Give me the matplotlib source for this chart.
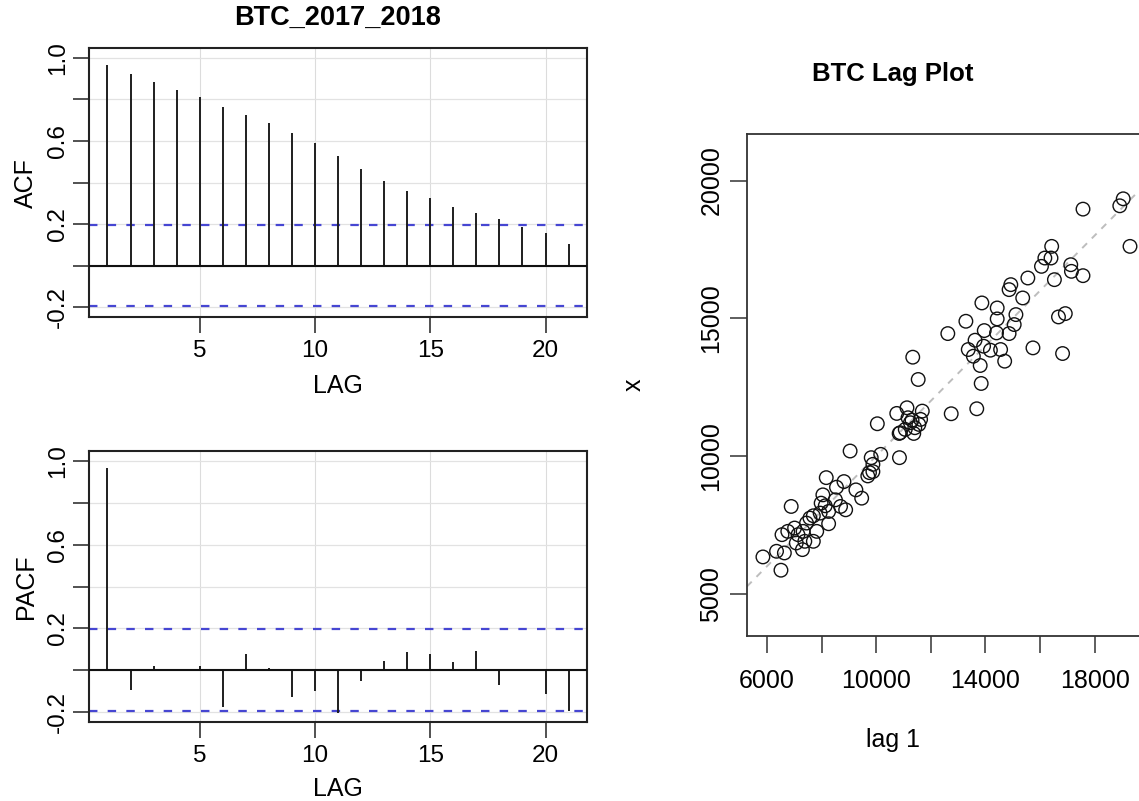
import matplotlib
matplotlib.use("Agg")
import matplotlib.pyplot as plt
import numpy as np

plt.rcParams['font.family'] = ['Liberation Sans', 'DejaVu Sans']

W, H = 1139, 801

# ACF / PACF values (lags 1..21)
lags = list(range(1, 22))
acf_vals = [0.968, 0.924, 0.884, 0.845, 0.811, 0.765, 0.723, 0.687, 0.640, 0.592,
            0.529, 0.463, 0.408, 0.360, 0.323, 0.282, 0.255, 0.224, 0.188, 0.156, 0.104]
pacf_vals = [0.966, -0.094, 0.019, -0.004, 0.019, -0.174, 0.079, 0.010, -0.129, -0.098,
             -0.206, -0.053, 0.044, 0.087, 0.076, 0.040, 0.092, -0.069, 0.006, -0.112, -0.195]
conf_band = 0.196

# lag plot: x = lag 1, y = x
lag_x = [17575, 18923, 19048, 19297, 16428, 16178, 16403, 16054, 17127, 17152,
         17575, 16528, 15555, 14931, 14868, 15367, 13871, 14432, 14432, 15118,
         15055, 14868, 14407, 13958, 13285, 12623, 13621, 13372, 13933, 14183,
         14557, 13559, 14706, 13809, 15742, 16677, 16927, 16827, 11339, 11538,
         13846, 13684, 12748, 11127, 10753, 11164, 11688, 11626, 11251, 11414,
         10877, 11563, 10041, 11064, 11314, 11376, 9044, 9817, 10166, 10852,
         9879, 9754, 8170, 8819, 8545, 9256, 9468, 8046, 6886, 7983,
         8257, 8694, 8881, 7572, 7697, 7447, 7010, 6761, 6549, 7135,
         7322, 7821, 7385, 7697, 7072, 7297, 8257, 7946, 6349, 6636,
         5850, 6511, 8133, 8507, 9692, 9879, 10840]
lag_y = [18961, 19082, 19336, 17609, 17609, 17186, 17186, 16884, 16944, 16703,
         16546, 16401, 16461, 16220, 16039, 15737, 15556, 15374, 14976, 15133,
         14771, 14444, 14469, 14553, 14891, 14444, 14203, 13865, 13986, 13841,
         13865, 13623, 13442, 13285, 13925, 15048, 15169, 13720, 13587, 12778,
         12633, 11715, 11534, 11751, 11546, 11389, 11630, 11329, 11208, 11027,
         10845, 11147, 11171, 10966, 11301, 10819, 10181, 9940, 10060, 9940,
         9698, 9396, 9215, 9072, 8867, 8771, 8470, 8590, 8169, 8289,
         7988, 8169, 8048, 7747, 7831, 7566, 7386, 7265, 7145, 7145,
         7265, 7265, 6904, 6904, 6843, 6602, 7542, 7928, 6542, 6482,
         6337, 5855, 8193, 8410, 9277, 9434, 10819]

acf_yticks = [-0.2, 0.0, 0.2, 0.4, 0.6, 0.8, 1.0]
acf_ylabels = ['-0.2', '', '0.2', '', '0.6', '', '1.0']
lag_xticks = [6000, 8000, 10000, 12000, 14000, 16000, 18000]
lag_xlabels = ['6000', '', '10000', '', '14000', '', '18000']
lag_yticks = [5000, 10000, 15000, 20000]


def px_axes(fig, l, t, r, b):
    return fig.add_axes([l / W, 1 - b / H, (r - l) / W, (b - t) / H])


fig = plt.figure(figsize=(W / 100, H / 100), dpi=100)
fig.patch.set_facecolor('white')

blue = '#4646d2'


def corr_panel(ax, vals):
    ax.set_xlim(0.2, 21.8)
    ax.set_ylim(-0.248, 1.048)
    for g in [5, 10, 15, 20]:
        ax.axvline(g, color='#dcdcdc', lw=0.8, zorder=0)
    for g in acf_yticks:
        ax.axhline(g, color='#e2e2e2', lw=0.9, zorder=0)
    ax.vlines(lags, 0, vals, color='#1e1e1e', lw=1.4, zorder=3)
    ax.axhline(0, color='#111111', lw=1.5, zorder=3)
    for s in [conf_band, -conf_band]:
        ax.axhline(s, color=blue, lw=1.6, dashes=(3.8, 4.6), zorder=2)
    ax.set_xticks([5, 10, 15, 20])
    ax.set_xticklabels(['5', '10', '15', '20'])
    ax.set_yticks(acf_yticks)
    ax.set_yticklabels(acf_ylabels, rotation=90, va='center')
    ax.tick_params(axis='both', length=11.5, width=1.1, labelsize=17.5, color='#222222')
    ax.tick_params(axis='x', pad=5)
    ax.tick_params(axis='y', pad=3)
    for sp in ax.spines.values():
        sp.set_linewidth(1.5)
        sp.set_color('#222222')


ax1 = px_axes(fig, 89, 48, 587, 317)
corr_panel(ax1, acf_vals)
ax2 = px_axes(fig, 89, 451, 587, 722)
corr_panel(ax2, pacf_vals)

fig.text(338 / W, 1 - 18 / H, 'BTC_2017_2018', fontsize=19.5, fontweight='bold',
         ha='center', va='center')
fig.text(26 / W, 1 - 183 / H, 'ACF', fontsize=18, rotation=90, ha='center', va='center')
fig.text(26 / W, 1 - 587 / H, 'PACF', fontsize=18, rotation=90, ha='center', va='center')
fig.text(338 / W, 1 - 386 / H, 'LAG', fontsize=18, ha='center', va='center')
fig.text(338 / W, 1 - 789 / H, 'LAG', fontsize=18, ha='center', va='center')

# lag plot
ax3 = px_axes(fig, 747, 134, 1165, 636)
ax3.set_xlim(5267, 20579)
ax3.set_ylim(3467, 21688)
ax3.plot([0, 30000], [0, 30000], color='#bdbdbd', lw=1.4, dashes=(3.5, 3.5), zorder=1)
ax3.scatter(lag_x, lag_y, s=95, facecolors='none', edgecolors='#111111', linewidths=1.0, zorder=3)
ax3.set_xticks(lag_xticks)
ax3.set_xticklabels(lag_xlabels)
ax3.set_yticks(lag_yticks)
ax3.set_yticklabels([str(v) for v in lag_yticks], rotation=90, va='center')
ax3.tick_params(axis='both', length=12, width=1.1, labelsize=18, color='#333333')
ax3.tick_params(axis='x', pad=12)
ax3.tick_params(axis='y', pad=5)
for sp in ax3.spines.values():
    sp.set_linewidth(1.3)
    sp.set_color('#333333')

fig.text(893 / W, 1 - 74 / H, 'BTC Lag Plot', fontsize=18.5, fontweight='bold',
         ha='center', va='center')
fig.text(893 / W, 1 - 740 / H, 'lag 1', fontsize=18, ha='center', va='center')
fig.text(634 / W, 1 - 385 / H, 'x', fontsize=18, rotation=90, ha='center', va='center')

fig.savefig('out.png', dpi=100, facecolor='white')
